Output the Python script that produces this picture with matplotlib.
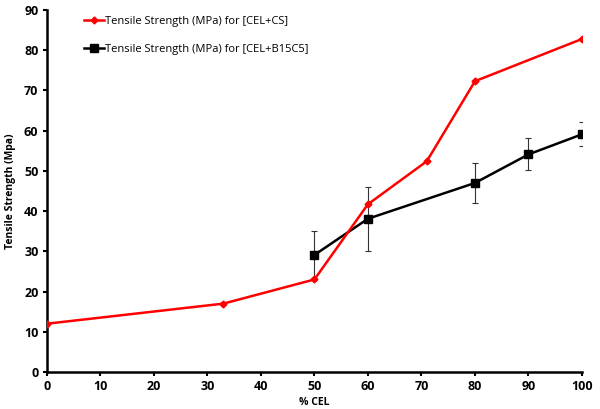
import matplotlib
matplotlib.use('Agg')
import matplotlib.pyplot as plt

plt.rcParams['font.family'] = ['Open Sans', 'DejaVu Sans']

# data
cel_cs_x = [0, 33, 50, 60, 71, 80, 100]
cel_cs_y = [12, 17, 23, 41.7, 52.4, 72.3, 82.8]

b15_x = [50, 60, 80, 90, 100]
b15_y = [29.1, 38.1, 47, 54.1, 59.1]
b15_err = [6, 8, 5, 4, 3]

label_cs = 'Tensile Strength (MPa) for [CEL+CS]'
label_b15 = 'Tensile Strength (MPa) for [CEL+B15C5]'

fig = plt.figure(figsize=(6, 4.09), dpi=100)
ax = fig.add_axes([0.078, 0.0905, 0.892, 0.885])

ax.errorbar(b15_x, b15_y, yerr=b15_err, fmt='none',
            ecolor='#333333', elinewidth=0.8, capsize=2.5, capthick=0.8, zorder=1)
ax.plot(b15_x, b15_y, color='black', lw=1.8, marker='s', ms=6,
        label=label_b15, zorder=2)
ax.plot(cel_cs_x, cel_cs_y, color='#ff0000', lw=1.8, marker='D', ms=3.5,
        label=label_cs, zorder=3)

ax.set_xlim(0, 100)
ax.set_ylim(0, 90)
ax.set_xticks(range(0, 101, 10))
ax.set_yticks(range(0, 91, 10))

for s in ['top', 'right']:
    ax.spines[s].set_visible(False)
for s in ['left', 'bottom']:
    ax.spines[s].set_linewidth(1.8)

ax.tick_params(direction='out', length=3, width=1.5, labelsize=9, pad=3)
for lab in ax.get_xticklabels() + ax.get_yticklabels():
    lab.set_fontweight('bold')

ax.set_xlabel('% CEL', fontsize=7.5, fontweight='bold', labelpad=3)
ax.set_ylabel('Tensile Strength (Mpa)', fontsize=7.5, fontweight='bold', labelpad=6)

handles, labels = ax.get_legend_handles_labels()
leg = ax.legend(handles[::-1], labels[::-1], loc='upper left',
                bbox_to_anchor=(0.05, 1.012), frameon=False,
                fontsize=8, handlelength=1.8, handletextpad=0.1,
                labelspacing=1.55)

fig.savefig('out.png', dpi=100)
